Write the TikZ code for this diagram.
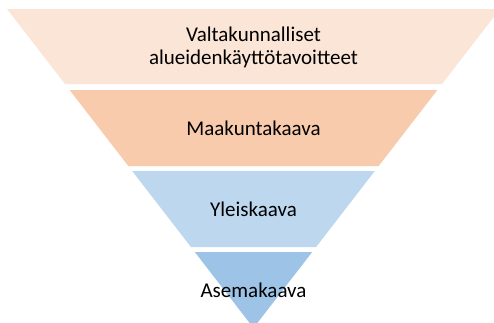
\documentclass[tikz,border=0pt]{standalone}
\usepackage{fontspec}
\setmainfont{Carlito}
\definecolor{bandA}{HTML}{FBE5D6}
\definecolor{bandB}{HTML}{F8CBAD}
\definecolor{bandC}{HTML}{BDD7EE}
\definecolor{bandD}{HTML}{9DC3E6}
\begin{document}
\begin{tikzpicture}[x=1pt,y=-1pt,
  lbl/.style={align=center,text=black,font=\fontsize{21}{23}\selectfont,inner sep=0pt}]
\useasboundingbox (0,0) rectangle (494,322);
\clip (0,0) rectangle (494,322);
\fill[bandA] (7,9) -- (500,9) -- (442,84) -- (65,84) -- cycle;
\fill[bandB] (69.6,90) -- (437.4,90) -- (378.7,166) -- (128.3,166) -- cycle;
\fill[bandC] (132.2,171) -- (374.8,171) -- (316.1,247) -- (190.9,247) -- cycle;
\fill[bandD] (194.8,252) -- (312.2,252) -- (253.5,328) -- cycle;
\node[lbl] (t1) at (253.5,47) {Valtakunnalliset\\alueidenkäyttötavoitteet};
\node[lbl] (t2) at (253.5,128) {Maakuntakaava};
\node[lbl] (t3) at (253.5,209) {Yleiskaava};
\node[lbl] (t4) at (253.5,290) {Asemakaava};
\end{tikzpicture}
\end{document}
